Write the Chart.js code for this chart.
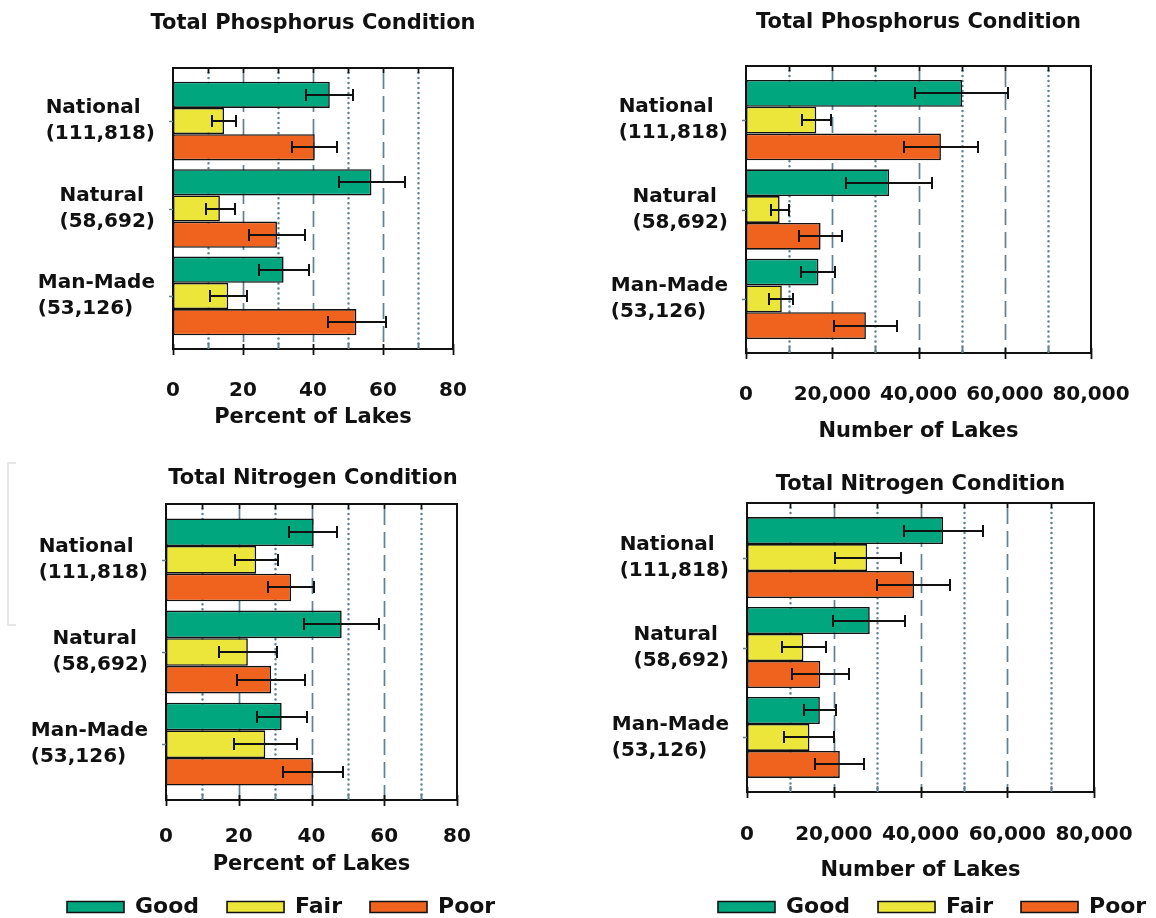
<!DOCTYPE html>
<html>
<head>
<meta charset="utf-8">
<title>Lake Nutrient Condition</title>
<script src="https://cdn.jsdelivr.net/npm/chart.js@4.4.1/dist/chart.umd.min.js"></script>
<style>
  html, body { margin: 0; padding: 0; background: #ffffff; overflow: hidden; }
  #page { position: relative; width: 1156px; height: 918px; overflow: hidden; background: #ffffff; }
  #page canvas { position: absolute; }
  #bracket { position: absolute; left: 7px; top: 462px; width: 7px; height: 160px;
             border: 2px solid #e6e6e6; border-right: none; }
</style>
</head>
<body>
<div id="page">
  <div id="bracket"></div>
  <canvas id="tpPercent" width="578" height="445" style="left:0px;top:0px"></canvas>
  <canvas id="tpNumber" width="578" height="445" style="left:578px;top:0px"></canvas>
  <canvas id="tnPercent" width="587" height="483" style="left:0px;top:445px"></canvas>
  <canvas id="tnNumber" width="640" height="483" style="left:578px;top:445px"></canvas>
</div>
<script>
// ---- Lake populations and condition classes ----
const lakeTypes  = ['National', 'Natural', 'Man-Made'];
const lakeCounts = [111818, 58692, 53126];
const conditions = ['Good', 'Fair', 'Poor'];
const conditionColors = ['#00a67e', '#ece63a', '#f0631f'];

// ---- Total phosphorus: percent of lakes ----
const tpPctGood = [44.8, 56.7, 31.6];
const tpPctFair = [14.6, 13.4, 15.8];
const tpPctPoor = [40.5, 29.7, 52.4];
const tpPctGoodCI = [[37.9, 51.4], [47.4, 66.2], [24.6, 38.8]];
const tpPctFairCI = [[11.2, 17.9], [9.3, 17.8], [10.5, 21.1]];
const tpPctPoorCI = [[34.1, 46.9], [21.7, 37.6], [44.3, 60.8]];

// ---- Total phosphorus: number of lakes ----
const tpNumGood = [50100, 33200, 16800];
const tpNumFair = [16300, 7800, 8300];
const tpNumPoor = [45200, 17300, 27800];
const tpNumGoodCI = [[39100, 60800], [23200, 43200], [12700, 20600]];
const tpNumFairCI = [[12900, 19800], [5800, 9900], [5400, 11000]];
const tpNumPoorCI = [[36600, 53900], [12400, 22300], [20500, 34900]];

// ---- Total nitrogen: percent of lakes ----
const tnPctGood = [40.6, 48.3, 31.8];
const tnPctFair = [24.8, 22.5, 27.3];
const tnPctPoor = [34.4, 28.9, 40.4];
const tnPctGoodCI = [[33.9, 47.0], [37.9, 58.5], [25.0, 38.7]];
const tnPctFairCI = [[19.1, 30.9], [14.5, 30.6], [18.8, 36.0]];
const tnPctPoorCI = [[28.1, 40.6], [19.5, 38.3], [32.2, 48.6]];

// ---- Total nitrogen: number of lakes ----
const tnNumGood = [45200, 28300, 16800];
const tnNumFair = [27700, 13000, 14400];
const tnNumPoor = [38500, 16900, 21400];
const tnNumGoodCI = [[36100, 54300], [19900, 36500], [13100, 20500]];
const tnNumFairCI = [[20200, 35400], [8100, 18100], [8500, 20100]];
const tnNumPoorCI = [[30000, 46900], [10300, 23500], [15600, 26900]];

const FONT = '"DejaVu Sans", "Liberation Sans", Arial, sans-serif';
const INK = '#111111';
const GRID = '#62808f';

// Frame, reference lines, error bars and two-line category labels
const lakeFrame = {
  id: 'lakeFrame',
  beforeDatasetsDraw(chart, args, opts) {
    const { ctx, chartArea: a } = chart;
    const x = chart.scales.x;
    const step = opts.step;
    ctx.save();
    ctx.strokeStyle = GRID;
    for (let k = 1; k * step < x.max; k++) {
      const px = Math.round(x.getPixelForValue(k * step)) + 0.5;
      ctx.beginPath();
      if (k % 2 === 0) {
        ctx.lineWidth = 1.7; ctx.lineCap = 'butt'; ctx.setLineDash([16, 7]);
      } else {
        ctx.lineWidth = 2.5; ctx.lineCap = 'round'; ctx.setLineDash([0.01, 5]);
      }
      ctx.moveTo(px, a.top + 5);
      ctx.lineTo(px, a.bottom);
      ctx.stroke();
    }
    ctx.restore();
  },
  afterDatasetsDraw(chart, args, opts) {
    const { ctx, chartArea: a } = chart;
    const x = chart.scales.x;
    const y = chart.scales.y;
    const step = opts.step;
    ctx.save();
    ctx.setLineDash([]);

    // error bars
    ctx.strokeStyle = INK;
    ctx.lineWidth = 2;
    chart.data.datasets.forEach((ds, d) => {
      const meta = chart.getDatasetMeta(d);
      ds.errorBars.forEach((range, i) => {
        const bar = meta.data[i];
        const cy = Math.round(bar.y);
        const x1 = Math.round(x.getPixelForValue(range[0]));
        const x2 = Math.round(x.getPixelForValue(range[1]));
        ctx.beginPath();
        ctx.moveTo(x1, cy); ctx.lineTo(x2, cy);
        ctx.moveTo(x1, cy - 6); ctx.lineTo(x1, cy + 6);
        ctx.moveTo(x2, cy - 6); ctx.lineTo(x2, cy + 6);
        ctx.stroke();
      });
    });

    // frame box
    ctx.lineWidth = 2;
    ctx.strokeStyle = INK;
    ctx.strokeRect(Math.round(a.left), Math.round(a.top),
                   Math.round(a.width), Math.round(a.height));

    // tick marks along top and bottom edges
    for (let k = 0; k * step <= x.max + 1e-9; k++) {
      const px = Math.round(x.getPixelForValue(k * step)) + 0.5;
      ctx.beginPath();
      if (k > 0 && k * step < x.max) {
        ctx.strokeStyle = INK; ctx.lineWidth = 1.8;
        ctx.moveTo(px, a.top); ctx.lineTo(px, a.top + 5);
        ctx.stroke();
        ctx.beginPath();
      }
      if (k % 2 === 0) {
        ctx.strokeStyle = INK; ctx.lineWidth = 1.8;
        ctx.moveTo(px, a.bottom - 5); ctx.lineTo(px, a.bottom + 6);
      } else {
        ctx.strokeStyle = GRID; ctx.lineWidth = 2;
        ctx.moveTo(px, a.bottom - 6); ctx.lineTo(px, a.bottom);
      }
      ctx.stroke();
    }

    // category ticks and labels
    ctx.font = 'bold 20px ' + FONT;
    ctx.fillStyle = INK;
    ctx.textBaseline = 'middle';
    ctx.textAlign = 'left';
    lakeTypes.forEach((name, i) => {
      const cy = y.getPixelForValue(i);
      ctx.beginPath();
      ctx.strokeStyle = GRID; ctx.lineWidth = 1.5;
      ctx.moveTo(a.left - 4, Math.round(cy) + 0.5);
      ctx.lineTo(a.left, Math.round(cy) + 0.5);
      ctx.stroke();
      const lines = [name, '(' + lakeCounts[i].toLocaleString('en-US') + ')'];
      const w = Math.max(...lines.map(t => ctx.measureText(t).width));
      const left = a.left - opts.labelGap - w;
      ctx.fillText(lines[0], left, cy - 13);
      ctx.fillText(lines[1], left, cy + 13);
    });
    ctx.restore();
  }
};

function buildPanel(id, spec) {
  const datasets = conditions.map((name, k) => ({
    label: name,
    data: spec.values[k].map((v, i) => ({ x: v, y: i })),
    errorBars: spec.errors[k],
    backgroundColor: conditionColors[k],
    borderColor: INK,
    borderWidth: 1.6,
    borderSkipped: false,
    categoryPercentage: 0.9,
    barPercentage: 1.0
  }));

  return new Chart(document.getElementById(id), {
    type: 'bar',
    data: { datasets },
    options: {
      indexAxis: 'y',
      responsive: false,
      animation: false,
      layout: { padding: { left: spec.padLeft, right: 0, top: 0, bottom: 0 } },
      scales: {
        x: {
          type: 'linear',
          min: 0,
          max: spec.max,
          grid: { display: false },
          border: { display: false },
          ticks: {
            stepSize: spec.max / 4,
            autoSkip: false,
            maxRotation: 0,
            minRotation: 0,
            padding: spec.tickPad,
            color: INK,
            font: { family: FONT, size: 20, weight: 'bold' },
            callback: v => Number(v).toLocaleString('en-US')
          },
          title: {
            display: true,
            text: spec.axisTitle,
            color: INK,
            font: { family: FONT, size: 21, weight: 'bold' },
            padding: { top: 0, bottom: spec.axisTitlePad }
          },
          afterFit: s => { s.height = spec.xHeight; s.paddingRight = spec.padRight; }
        },
        y: {
          type: 'linear',
          reverse: true,
          offset: false,
          min: -0.606,
          max: 2.606,
          afterBuildTicks: s => { s.ticks = lakeTypes.map((_, i) => ({ value: i })); },
          ticks: { display: false },
          grid: { display: false, offset: false },
          border: { display: false },
          afterFit: s => { s.width = spec.yWidth; }
        }
      },
      plugins: {
        legend: {
          display: spec.legend,
          position: 'bottom',
          align: 'start',
          labels: {
            boxWidth: 57,
            boxHeight: 11,
            padding: 28,
            color: INK,
            font: { family: FONT, size: 22, weight: 'bold' }
          }
        },
        title: {
          display: true,
          text: spec.title,
          fullSize: spec.titleFull,
          color: INK,
          font: { family: FONT, size: 21, weight: 'bold' },
          padding: { top: spec.titleTop, bottom: spec.titleBottom }
        },
        tooltip: { enabled: false },
        lakeFrame: { step: spec.max / 8, labelGap: 18 }
      }
    },
    plugins: [lakeFrame]
  });
}

buildPanel('tpPercent', {
  title: 'Total Phosphorus Condition', axisTitle: 'Percent of Lakes', max: 80,
  values: [tpPctGood, tpPctFair, tpPctPoor], errors: [tpPctGoodCI, tpPctFairCI, tpPctPoorCI],
  padLeft: 48, yWidth: 125, padRight: 125, xHeight: 96, tickPad: 22, axisTitlePad: 14.4,
  titleTop: 11.4, titleBottom: 31.4, titleFull: true, legend: false
});

buildPanel('tpNumber', {
  title: 'Total Phosphorus Condition', axisTitle: 'Number of Lakes', max: 80000,
  values: [tpNumGood, tpNumFair, tpNumPoor], errors: [tpNumGoodCI, tpNumFairCI, tpNumPoorCI],
  padLeft: 0, yWidth: 168, padRight: 65, xHeight: 92, tickPad: 22, axisTitlePad: 0.4,
  titleTop: 10.4, titleBottom: 30.4, titleFull: false, legend: false
});

buildPanel('tnPercent', {
  title: 'Total Nitrogen Condition', axisTitle: 'Percent of Lakes', max: 80,
  values: [tnPctGood, tnPctFair, tnPctPoor], errors: [tnPctGoodCI, tnPctFairCI, tnPctPoorCI],
  padLeft: 39, yWidth: 127, padRight: 130, xHeight: 68, tickPad: 17, axisTitlePad: -9.6,
  titleTop: 21.4, titleBottom: 12.4, titleFull: true, legend: true
});

buildPanel('tnNumber', {
  title: 'Total Nitrogen Condition', axisTitle: 'Number of Lakes', max: 80000,
  values: [tnNumGood, tnNumFair, tnNumPoor], errors: [tnNumGoodCI, tnNumFairCI, tnNumPoorCI],
  padLeft: 112, yWidth: 57, padRight: 124, xHeight: 76, tickPad: 23, axisTitlePad: -15.6,
  titleTop: 27.4, titleBottom: 5.4, titleFull: false, legend: true
});
</script>
</body>
</html>
